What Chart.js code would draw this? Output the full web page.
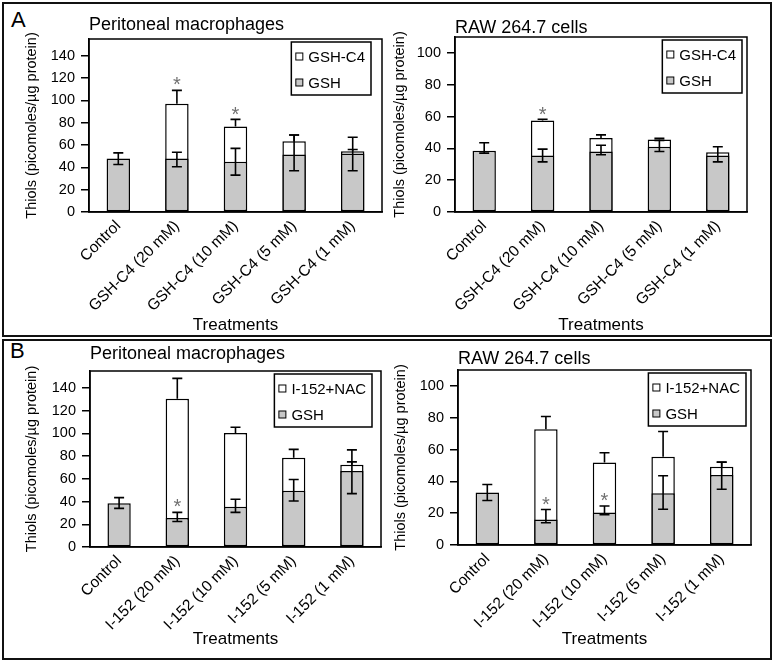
<!DOCTYPE html>
<html>
<head>
<meta charset="utf-8">
<title>Thiol content after GSH-C4 and I-152 treatments</title>
<script src="https://cdn.jsdelivr.net/npm/chart.js@4.4.1/dist/chart.umd.min.js"></script>
<style>
  html, body { margin: 0; padding: 0; background: #fff; }
  body { position: relative; width: 777px; height: 664px; overflow: hidden; font-family: Arial, "Liberation Sans", sans-serif; }
  .panel { position: absolute; box-sizing: border-box; border: 2px solid #111; }
  .letter { position: absolute; font-size: 22px; line-height: 1; color: #000; }
  canvas { position: absolute; }
</style>
</head>
<body>
<div class="panel" style="left:2px; top:2px; width:770px; height:335px"></div>
<div class="panel" style="left:2px; top:339px; width:770px; height:321px"></div>
<div class="letter" style="left:11px; top:9px">A</div>
<div class="letter" style="left:10px; top:340px">B</div>
<canvas id="periA"></canvas>
<canvas id="rawA"></canvas>
<canvas id="periB"></canvas>
<canvas id="rawB"></canvas>

<script>
// --- Categories ---
const gshC4Labels = ["Control", "GSH-C4 (20 mM)", "GSH-C4 (10 mM)", "GSH-C4 (5 mM)", "GSH-C4 (1 mM)"];
const i152Labels = ["Control", "I-152 (20 mM)", "I-152 (10 mM)", "I-152 (5 mM)", "I-152 (1 mM)"];

// --- A: peritoneal macrophages (GSH-C4) ---
const periA_gsh      = [48, 48, 45, 51.5, 52.5];
const periA_gshLow   = [5.5, 7.5, 12, 14.5, 15.5];
const periA_gshHigh  = [5, 5.5, 12, 17.5, 14.5];
const periA_total    = [null, 97, 76.5, 63.5, 54.5];
const periA_totalErr = [null, 12, 6.5, 5.5, 1.5];
const periA_stars    = [null, 118, 91, null, null];

// --- A: RAW 264.7 cells (GSH-C4) ---
const rawA_gsh      = [38.5, 35.5, 38, 41, 35.5];
const rawA_gshLow   = [1.5, 4, 2, 3, 4];
const rawA_gshHigh  = [5, 4, 4, 4, 5.5];
const rawA_total    = [null, 57.5, 46.5, 45.5, 37.5];
const rawA_totalErr = [null, 0.8, 2, 0.8, 0];
const rawA_stars    = [null, 64, null, null, null];

// --- B: peritoneal macrophages (I-152) ---
const periB_gsh      = [38.5, 25.5, 35.5, 49.5, 67];
const periB_gshLow   = [4.5, 3, 5, 9, 20];
const periB_gshHigh  = [5, 5, 6.5, 10, 8];
const periB_total    = [null, 130.5, 100.5, 78.5, 72.5];
const periB_totalErr = [null, 18, 5, 7.5, 13];
const periB_stars    = [null, 40, null, null, null];

// --- B: RAW 264.7 cells (I-152) ---
const rawB_gsh      = [33, 16, 20.5, 32.5, 44];
const rawB_gshLow   = [5, 2, 1.5, 10, 9];
const rawB_gshHigh  = [5, 6.3, 4, 11, 8];
const rawB_total    = [null, 72.8, 51.8, 55.5, 49.2];
const rawB_totalErr = [null, 8, 6.2, 15.8, 3];
const rawB_stars    = [null, 28, 30.5, null, null];

// --- Style ---
const FONT = 'Arial, "Liberation Sans", sans-serif';
const GRAY = '#c8c8c8';
Chart.defaults.font.family = FONT;
Chart.defaults.color = '#000';

// --- Plugins ---
const plotFrame = {
    id: 'plotFrame',
    afterDraw(chart){
        let a = chart.chartArea, ctx = chart.ctx;
        ctx.save();
        ctx.strokeStyle = '#000';
        ctx.lineWidth = 1.5;
        ctx.strokeRect(a.left, a.top, a.right - a.left, a.bottom - a.top);
        ctx.restore();
    }
};

const errorBars = {
    id: 'errorBars',
    afterDatasetsDraw(chart){
        let ctx = chart.ctx, y = chart.scales.y;
        ctx.save();
        ctx.strokeStyle = '#000';
        ctx.lineWidth = 1.6;
        // top series first, GSH whiskers on top of everything
        chart.data.datasets.slice().reverse().forEach(ds => {
            let meta = chart.getDatasetMeta(chart.data.datasets.indexOf(ds));
            ds.data.forEach((v, i) => {
                if (v == null) return;
                let lo = ds.errLow ? ds.errLow[i] || 0 : 0;
                let hi = ds.errHigh ? ds.errHigh[i] || 0 : 0;
                if (!lo && !hi) return;
                let x = meta.data[i].x;
                let yTop = y.getPixelForValue(v + hi);
                let yBot = y.getPixelForValue(v - lo);
                ctx.beginPath();
                ctx.moveTo(x, yBot); ctx.lineTo(x, yTop);
                if (hi) { ctx.moveTo(x - 5, yTop); ctx.lineTo(x + 5, yTop); }
                if (lo) { ctx.moveTo(x - 5, yBot); ctx.lineTo(x + 5, yBot); }
                ctx.stroke();
            });
        });
        ctx.restore();
    }
};

const starMarks = {
    id: 'starMarks',
    afterDatasetsDraw(chart, args, opts){
        let ctx = chart.ctx;
        ctx.save();
        ctx.fillStyle = '#707070';
        ctx.font = '20px ' + FONT;
        ctx.textAlign = 'center';
        ctx.textBaseline = 'alphabetic';
        (opts.values || []).forEach((v, i) => {
            if (v == null) return;
            ctx.fillText('*', chart.scales.x.getPixelForValue(i), chart.scales.y.getPixelForValue(v) + 11);
        });
        ctx.restore();
    }
};

const boxLegend = {
    id: 'boxLegend',
    afterDraw(chart, args, opts){
        let ctx = chart.ctx, a = chart.chartArea;
        let items = chart.data.datasets.slice().reverse();
        ctx.save();
        ctx.font = '15px ' + FONT;
        let textW = Math.max(...items.map(d => ctx.measureText(d.label).width));
        let w = 17 + textW + 6, h = 53;
        let x = a.right - opts.inset - w, y = a.top + 3;
        ctx.fillStyle = '#fff';
        ctx.fillRect(x, y, w, h);
        ctx.strokeStyle = '#000';
        ctx.lineWidth = 1.5;
        ctx.strokeRect(x, y, w, h);
        items.forEach((d, i) => {
            let cy = y + 14.5 + i * 26;
            ctx.fillStyle = d.backgroundColor;
            ctx.fillRect(x + 4.5, cy - 3.5, 7, 7);
            ctx.lineWidth = 1;
            ctx.strokeRect(x + 4.5, cy - 3.5, 7, 7);
            ctx.fillStyle = '#000';
            ctx.textBaseline = 'middle';
            ctx.fillText(d.label, x + 17, cy + 1);
        });
        ctx.restore();
    }
};

// --- Chart builder ---
function makeChart(id, p){
    let c = p.box, a = p.area;
    let canvas = document.getElementById(id);
    canvas.width = c.w;
    canvas.height = c.h;
    canvas.style.left = c.x + 'px';
    canvas.style.top = c.y + 'px';

    let titleBottom = Math.max(0, a.t - p.titleY - 9);
    let titleTop = a.t - c.y - 18 - titleBottom;

    return new Chart(canvas, {
        type: 'bar',
        data: {
            labels: p.labels,
            datasets: [
                {label: "GSH", data: p.gsh, backgroundColor: GRAY, errLow: p.gshLow, errHigh: p.gshHigh},
                {label: p.topLabel, data: p.total, backgroundColor: '#fff', errHigh: p.totalErr}
            ]
        },
        options: {
            responsive: false,
            animation: false,
            layout: {padding: {left: 0, top: 0, bottom: 0, right: c.x + c.w - a.r}},
            datasets: {bar: {grouped: false, barPercentage: 0.4, categoryPercentage: 1,
                             borderColor: '#000', borderWidth: 1.5, borderSkipped: false}},
            scales: {
                x: {
                    grid: {display: false, drawTicks: false},
                    border: {display: true, color: '#000', width: 1.5},
                    ticks: {font: {size: 15.5}, minRotation: 45, maxRotation: 45, autoSkip: false, padding: 5},
                    title: {display: true, text: "Treatments", font: {size: 17, lineHeight: 1},
                            padding: {top: 0, bottom: c.y + c.h - p.xTitleY - 8.5}},
                    afterFit: s => { s.height = c.y + c.h - a.b; }
                },
                y: {
                    min: 0,
                    max: p.yMax,
                    ticks: {stepSize: 20, includeBounds: false, font: {size: 14.5}, padding: 6},
                    grid: {drawOnChartArea: false, drawTicks: true, tickLength: 8, color: '#000', lineWidth: 1.5},
                    border: {color: '#000', width: 1.5},
                    title: {display: true, text: "Thiols (picomoles/µg protein)", font: {size: 14.5, lineHeight: 1},
                            padding: {top: p.yTitleX - c.x - 7, bottom: 0}},
                    afterFit: s => { s.width = a.l - c.x; }
                }
            },
            plugins: {
                legend: {display: false},
                tooltip: {enabled: false},
                title: {display: true, text: p.title, align: 'start', fullSize: false,
                        font: {size: 18, weight: 'normal', lineHeight: 1},
                        padding: {top: titleTop, bottom: titleBottom}},
                starMarks: {values: p.stars},
                boxLegend: {inset: p.legendInset}
            }
        },
        plugins: [plotFrame, errorBars, starMarks, boxLegend]
    });
}

// --- Initial Load ---
makeChart('periA', {
    box: {x: 4, y: 4, w: 384, h: 332}, area: {l: 89, t: 39, r: 382, b: 212},
    titleY: 25, yTitleX: 32, xTitleY: 325.5, legendInset: 11, yMax: 155,
    title: "Peritoneal macrophages", topLabel: "GSH-C4", labels: gshC4Labels,
    gsh: periA_gsh, gshLow: periA_gshLow, gshHigh: periA_gshHigh,
    total: periA_total, totalErr: periA_totalErr, stars: periA_stars
});
makeChart('rawA', {
    box: {x: 390, y: 4, w: 380, h: 332}, area: {l: 455, t: 37, r: 747, b: 212},
    titleY: 28, yTitleX: 400, xTitleY: 325, legendInset: 5, yMax: 110,
    title: "RAW 264.7 cells", topLabel: "GSH-C4", labels: gshC4Labels,
    gsh: rawA_gsh, gshLow: rawA_gshLow, gshHigh: rawA_gshHigh,
    total: rawA_total, totalErr: rawA_totalErr, stars: rawA_stars
});
makeChart('periB', {
    box: {x: 4, y: 342, w: 384, h: 315}, area: {l: 90, t: 371, r: 381, b: 547},
    titleY: 354, yTitleX: 32, xTitleY: 639.5, legendInset: 9, yMax: 155,
    title: "Peritoneal macrophages", topLabel: "I-152+NAC", labels: i152Labels,
    gsh: periB_gsh, gshLow: periB_gshLow, gshHigh: periB_gshHigh,
    total: periB_total, totalErr: periB_totalErr, stars: periB_stars
});
makeChart('rawB', {
    box: {x: 390, y: 342, w: 380, h: 315}, area: {l: 458, t: 370, r: 751, b: 545},
    titleY: 359, yTitleX: 401, xTitleY: 639, legendInset: 5, yMax: 110,
    title: "RAW 264.7 cells", topLabel: "I-152+NAC", labels: i152Labels,
    gsh: rawB_gsh, gshLow: rawB_gshLow, gshHigh: rawB_gshHigh,
    total: rawB_total, totalErr: rawB_totalErr, stars: rawB_stars
});
</script>
</body>
</html>
